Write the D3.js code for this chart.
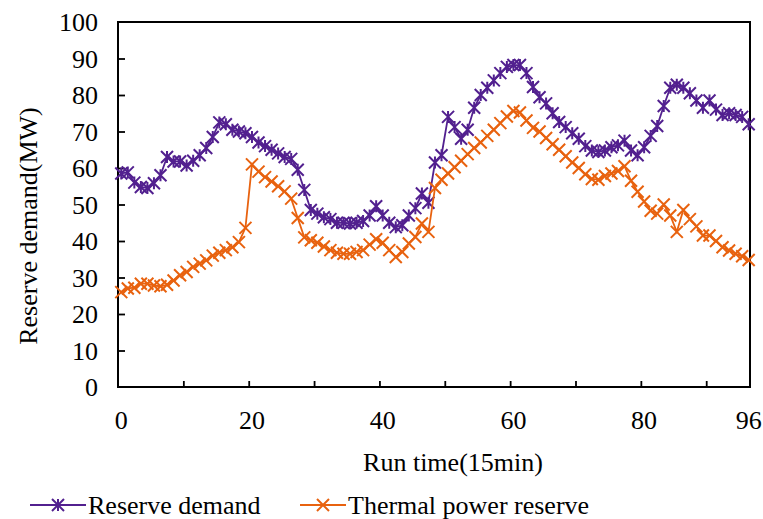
<!DOCTYPE html>
<html>
<head>
<meta charset="utf-8">
<script src="https://cdnjs.cloudflare.com/ajax/libs/d3/7.8.5/d3.min.js"></script>
<style>
  html, body { margin: 0; padding: 0; background: #fff; }
  svg text { font-family: 'Liberation Serif', 'Times New Roman', serif; fill: #000; }
</style>
</head>
<body>
<div class="graph"><svg></svg></div>
<script>
// time step index (15 min each)
const runTime = d3.range(0, 97)

const reserveDemand = [
  58.5, 58.8, 56, 54.8, 54.5, 55.8, 58, 63, 61.8, 61.8,
  60.7, 62, 63.5, 65.5, 68.5, 72.5, 72, 70.5, 70, 69.5,
  68.5, 67, 66, 65, 64, 63, 62.5, 59.5, 54, 48.5,
  47.5, 46.5, 46, 45, 45, 44.8, 45, 45.5, 47, 49.5,
  47, 45, 43.8, 44.3, 47, 49, 53, 50.5, 61.5, 63.5,
  74, 71.2, 68, 70.5, 76.5, 80, 82, 84, 86, 87.7,
  88.2, 88.2, 86, 82.2, 79.4, 77.7, 75, 72.6, 71.2, 69.5,
  68, 66, 64.8, 64.4, 64.8, 65.7, 66.2, 67.5, 64.8, 63.5,
  65.7, 68.8, 71.5, 77, 82, 82.8, 82, 80.5, 78.5, 76.5,
  78.5, 76, 74.5, 75, 74.5, 74, 72
]

const thermalReserve = [
  26, 27, 27.2, 28.3, 28.3, 27.8, 27.6, 28, 29.2, 30.6,
  31.5, 32.9, 33.8, 34.7, 36, 36.8, 37.5, 38.3, 39.7, 43.6,
  61, 59, 57.5, 56.3, 55, 53.6, 51.6, 46.3, 41, 40.2,
  39.5, 38.5, 37.5, 36.8, 36.5, 36.5, 37, 37.5, 39, 40.5,
  39.5, 37.5, 35.6, 37, 39.3, 41.1, 44.8, 42.5, 54.5, 56.8,
  58.5, 60.2, 62, 63.8, 65.5, 67, 68.8, 70.5, 72.3, 74.1,
  75.6, 75.2, 73, 71, 70, 68.2, 66.5, 65, 63.2, 61.5,
  60, 58.3, 57, 56.8, 57.8, 58.5, 59.2, 60.5, 56.5, 53.5,
  50.8, 48.3, 47.5, 50, 47, 42.5, 48.5, 46, 44, 41.5,
  41.5, 40, 38.3, 37.4, 36.5, 35.8, 34.8
]

const xTickLabels = [0, 20, 40, 60, 80, 96]
const xTickMarks = [9.5, 19.5, 29.5, 39.5, 49.5, 59.5, 69.5, 79.5, 89.5]
const yTicks = [0, 10, 20, 30, 40, 50, 60, 70, 80, 90, 100]

const seriesNames = ['Reserve demand', 'Thermal power reserve']
const purple = '#52208f'
const orange = '#e8620f'

const width = 763
const height = 519
const plot = { left: 118, right: 750, top: 22, bottom: 387 }

const svg = d3.select('.graph').select('svg')
  .attr('width', width)
  .attr('height', height)

const xScale = d3.scaleLinear().domain([-0.5, 96.2]).range([plot.left, plot.right])
const yScale = d3.scaleLinear().domain([0, 100]).range([plot.bottom, plot.top])

/**
 * Draws an Excel like marker at the given point.
 *
 * @param {*} g The d3 Selection to draw in
 * @param {string} kind 'star' or 'x'
 * @param {number} cx Centre x
 * @param {number} cy Centre y
 * @param {string} color Stroke colour
 */
function drawMarker (g, kind, cx, cy, color) {
  const r = 6
  let d = `M${cx - r},${cy - r}L${cx + r},${cy + r}M${cx - r},${cy + r}L${cx + r},${cy - r}`
  if (kind === 'star') d += `M${cx},${cy - r}L${cx},${cy + r}`
  g.append('path')
    .attr('d', d)
    .attr('stroke', color)
    .attr('stroke-width', 2)
    .attr('fill', 'none')
}

/**
 * Draws one series as a line with markers.
 *
 * @param {number[]} values The y values
 * @param {string} color Line colour
 * @param {string} kind Marker kind
 */
function drawSeries (values, color, kind) {
  const g = svg.append('g')
  const line = d3.line()
    .x((d, i) => xScale(runTime[i]))
    .y(d => yScale(d))
  g.append('path')
    .datum(values)
    .attr('d', line)
    .attr('fill', 'none')
    .attr('stroke', color)
    .attr('stroke-width', 1.8)
  values.forEach((v, i) => drawMarker(g, kind, xScale(runTime[i]), yScale(v), color))
}

// axes: inward tick marks, labels drawn separately
const xAxis = d3.axisBottom(xScale)
  .tickValues(xTickMarks)
  .tickSize(-6)
  .tickSizeOuter(0)
  .tickFormat('')
svg.append('g')
  .attr('transform', 'translate(0,' + plot.bottom + ')')
  .call(xAxis)

const yAxis = d3.axisLeft(yScale)
  .tickValues(yTicks.slice(1, -1))
  .tickSize(-7)
  .tickSizeOuter(0)
  .tickFormat('')
svg.append('g')
  .attr('transform', 'translate(' + plot.left + ',0)')
  .call(yAxis)

svg.selectAll('.tick line').attr('stroke', '#000').attr('stroke-width', 1.8)
svg.selectAll('.domain').remove()

// plot frame
svg.append('rect')
  .attr('x', plot.left)
  .attr('y', plot.top)
  .attr('width', plot.right - plot.left)
  .attr('height', plot.bottom - plot.top)
  .attr('fill', 'none')
  .attr('stroke', '#000')
  .attr('stroke-width', 2)

svg.selectAll('.xlabel')
  .data(xTickLabels)
  .enter().append('text')
  .attr('x', d => xScale(d))
  .attr('y', 429)
  .attr('text-anchor', 'middle')
  .attr('font-size', 26)
  .text(d => d)

svg.selectAll('.ylabel')
  .data(yTicks)
  .enter().append('text')
  .attr('x', 98)
  .attr('y', d => yScale(d) + 9)
  .attr('text-anchor', 'end')
  .attr('font-size', 26)
  .text(d => d)

svg.append('text')
  .attr('x', 453)
  .attr('y', 471)
  .attr('text-anchor', 'middle')
  .attr('font-size', 26)
  .text('Run time(15min)')

svg.append('text')
  .attr('transform', 'translate(37,226) rotate(-90)')
  .attr('text-anchor', 'middle')
  .attr('font-size', 26)
  .text('Reserve demand(MW)')

drawSeries(reserveDemand, purple, 'star')
drawSeries(thermalReserve, orange, 'x')

// legend
const legend = svg.append('g')
const legendItems = [
  { name: seriesNames[0], color: purple, kind: 'star', x0: 30, x1: 86 },
  { name: seriesNames[1], color: orange, kind: 'x', x0: 300, x1: 346 }
]
legendItems.forEach(item => {
  legend.append('line')
    .attr('x1', item.x0).attr('x2', item.x1)
    .attr('y1', 505).attr('y2', 505)
    .attr('stroke', item.color)
    .attr('stroke-width', 2)
  drawMarker(legend, item.kind, (item.x0 + item.x1) / 2, 505, item.color)
  legend.append('text')
    .attr('x', item.x1 + 2)
    .attr('y', 514)
    .attr('font-size', 26)
    .text(item.name)
})
</script>
</body>
</html>
